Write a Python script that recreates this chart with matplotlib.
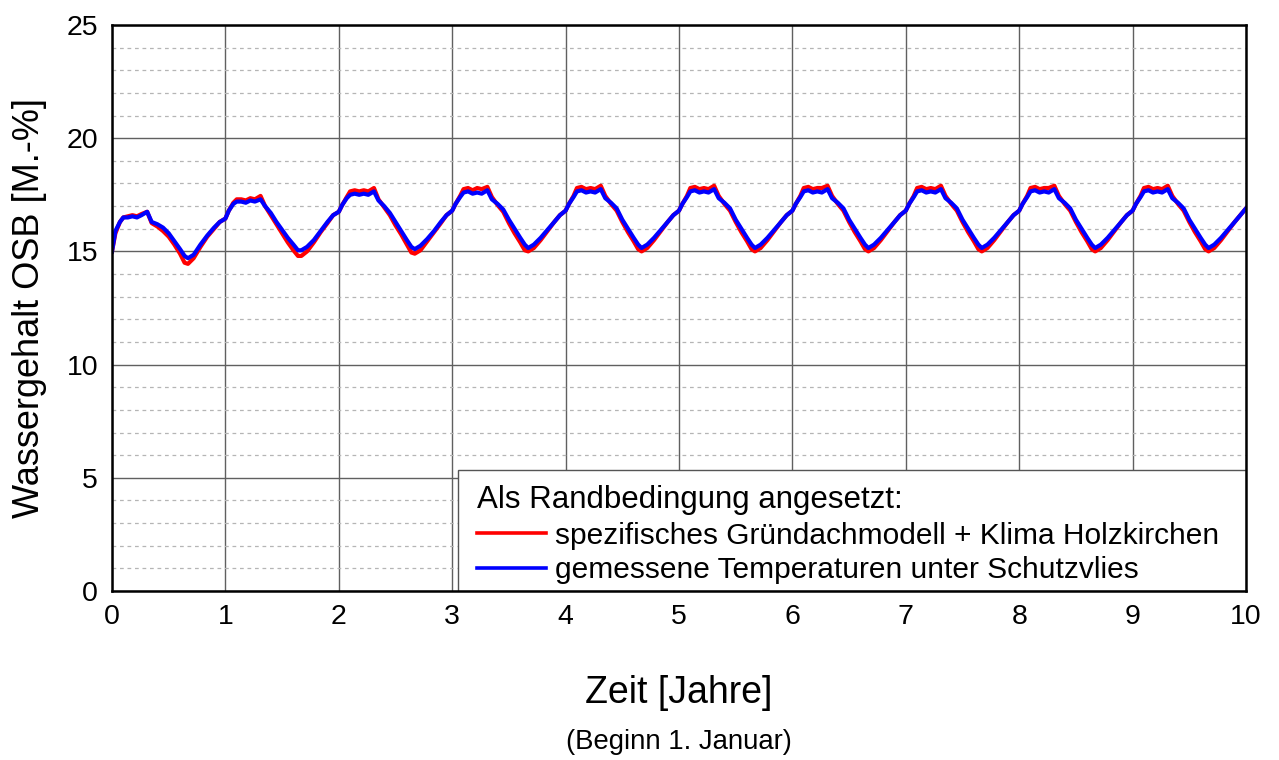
import matplotlib
matplotlib.use('Agg')
import matplotlib.pyplot as plt
from matplotlib.patches import Rectangle
from matplotlib.ticker import MultipleLocator

plt.rcParams['font.family'] = ['Liberation Sans', 'DejaVu Sans']

# Zeitpunkte innerhalb eines Jahres (Anteil des Jahres)
phase = [0.00, 0.03, 0.07, 0.10, 0.14, 0.18, 0.22, 0.26, 0.31, 0.35, 0.40,
         0.45, 0.50, 0.55, 0.60, 0.64, 0.67, 0.72, 0.78, 0.84, 0.90, 0.95]

# Wassergehalt OSB [M.-%], je Jahr eine Liste (Werte zu den Zeitpunkten in phase)
rot_jahre = [
    [15.0, 15.8, 16.3, 16.5, 16.55, 16.6, 16.55, 16.65, 16.75, 16.25, 16.1,
     15.9, 15.65, 15.3, 14.9, 14.5, 14.45, 14.7, 15.2, 15.65, 16.0, 16.3],
    [16.45, 16.8, 17.15, 17.3, 17.3, 17.25, 17.35, 17.3, 17.45, 17.0, 16.6,
     16.2, 15.8, 15.4, 15.05, 14.8, 14.8, 15.0, 15.4, 15.85, 16.25, 16.6],
    [16.75, 17.05, 17.4, 17.65, 17.7, 17.65, 17.7, 17.65, 17.8, 17.3, 16.95,
     16.6, 16.15, 15.75, 15.3, 14.95, 14.9, 15.05, 15.45, 15.85, 16.25, 16.6],
    [16.8, 17.1, 17.45, 17.75, 17.8, 17.7, 17.8, 17.75, 17.85, 17.4, 17.05,
     16.75, 16.25, 15.8, 15.4, 15.05, 15.0, 15.15, 15.5, 15.9, 16.3, 16.6],
    [16.8, 17.1, 17.45, 17.8, 17.85, 17.75, 17.8, 17.75, 17.9, 17.45, 17.1,
     16.8, 16.3, 15.85, 15.45, 15.1, 15.0, 15.15, 15.5, 15.9, 16.3, 16.6],
    [16.8, 17.1, 17.45, 17.8, 17.85, 17.75, 17.8, 17.75, 17.9, 17.45, 17.1,
     16.8, 16.3, 15.85, 15.45, 15.1, 15.0, 15.15, 15.5, 15.9, 16.3, 16.6],
    [16.8, 17.1, 17.45, 17.8, 17.85, 17.75, 17.8, 17.8, 17.9, 17.45, 17.1,
     16.8, 16.3, 15.85, 15.45, 15.1, 15.0, 15.15, 15.5, 15.9, 16.3, 16.6],
    [16.8, 17.1, 17.45, 17.8, 17.85, 17.75, 17.8, 17.75, 17.9, 17.45, 17.1,
     16.8, 16.3, 15.85, 15.45, 15.1, 15.0, 15.15, 15.5, 15.9, 16.3, 16.6],
    [16.8, 17.1, 17.45, 17.8, 17.85, 17.75, 17.8, 17.8, 17.9, 17.45, 17.1,
     16.8, 16.3, 15.85, 15.45, 15.1, 15.0, 15.15, 15.5, 15.9, 16.3, 16.6],
    [16.8, 17.1, 17.45, 17.8, 17.85, 17.75, 17.8, 17.75, 17.9, 17.45, 17.1,
     16.8, 16.3, 15.85, 15.45, 15.1, 15.0, 15.15, 15.5, 15.9, 16.3, 16.6],
]
blau_jahre = [
    [15.0, 15.9, 16.3, 16.5, 16.5, 16.55, 16.5, 16.6, 16.75, 16.3, 16.2,
     16.05, 15.8, 15.45, 15.1, 14.8, 14.7, 14.85, 15.3, 15.7, 16.05, 16.3],
    [16.45, 16.8, 17.1, 17.2, 17.2, 17.15, 17.25, 17.2, 17.3, 17.0, 16.7,
     16.3, 15.95, 15.6, 15.3, 15.05, 15.05, 15.2, 15.5, 15.9, 16.3, 16.6],
    [16.75, 17.05, 17.35, 17.5, 17.55, 17.5, 17.55, 17.5, 17.65, 17.25, 17.0,
     16.7, 16.3, 15.9, 15.5, 15.2, 15.1, 15.25, 15.55, 15.9, 16.3, 16.6],
    [16.8, 17.1, 17.4, 17.6, 17.65, 17.55, 17.6, 17.55, 17.7, 17.3, 17.1,
     16.85, 16.4, 16.0, 15.6, 15.3, 15.15, 15.3, 15.6, 15.95, 16.3, 16.6],
    [16.8, 17.1, 17.4, 17.65, 17.7, 17.6, 17.65, 17.6, 17.75, 17.35, 17.15,
     16.9, 16.4, 16.0, 15.6, 15.3, 15.15, 15.3, 15.6, 15.95, 16.3, 16.6],
    [16.8, 17.1, 17.4, 17.65, 17.7, 17.6, 17.65, 17.6, 17.75, 17.35, 17.15,
     16.9, 16.4, 16.0, 15.6, 15.3, 15.15, 15.3, 15.6, 15.95, 16.3, 16.6],
    [16.8, 17.1, 17.4, 17.65, 17.7, 17.6, 17.65, 17.6, 17.75, 17.35, 17.15,
     16.9, 16.4, 16.0, 15.6, 15.3, 15.15, 15.3, 15.6, 15.95, 16.3, 16.6],
    [16.8, 17.1, 17.4, 17.65, 17.7, 17.6, 17.65, 17.6, 17.75, 17.35, 17.15,
     16.9, 16.4, 16.0, 15.6, 15.3, 15.15, 15.3, 15.6, 15.95, 16.3, 16.6],
    [16.8, 17.1, 17.4, 17.65, 17.7, 17.6, 17.65, 17.6, 17.75, 17.35, 17.15,
     16.9, 16.4, 16.0, 15.6, 15.3, 15.15, 15.3, 15.6, 15.95, 16.3, 16.6],
    [16.8, 17.1, 17.4, 17.65, 17.7, 17.6, 17.65, 17.6, 17.75, 17.35, 17.15,
     16.9, 16.4, 16.0, 15.6, 15.3, 15.15, 15.3, 15.6, 15.95, 16.3, 16.6],
]
ende_zeit = 10.0
ende_rot = 16.9
ende_blau = 16.9

labels = ['spezifisches Gründachmodell + Klima Holzkirchen',
          'gemessene Temperaturen unter Schutzvlies']

# Zeitreihen zusammensetzen
zeit = [jahr + p for jahr in range(len(rot_jahre)) for p in phase] + [ende_zeit]
rot = [w for jahr in rot_jahre for w in jahr] + [ende_rot]
blau = [w for jahr in blau_jahre for w in jahr] + [ende_blau]

fig = plt.figure(figsize=(12.79, 7.6), dpi=100)
ax = fig.add_axes([112 / 1279, 169 / 760, 1134 / 1279, 566 / 760])

ax.plot(zeit, rot, color='#ff0000', lw=3.0, label=labels[0], zorder=3)
ax.plot(zeit, blau, color='#0000ff', lw=3.0, label=labels[1], zorder=4)

ax.set_xlim(0, 10)
ax.set_ylim(0, 25)
ax.xaxis.set_major_locator(MultipleLocator(1))
ax.yaxis.set_major_locator(MultipleLocator(5))
ax.yaxis.set_minor_locator(MultipleLocator(1))

ax.grid(which='major', color='#606060', lw=1.0, zorder=1)
ax.grid(which='minor', axis='y', color='#b5b5b5', lw=0.9,
        linestyle=(0, (3, 3)), zorder=1)
ax.set_axisbelow(True)

ax.tick_params(which='both', length=0, labelsize=20.5)
ax.tick_params(axis='x', pad=9)
ax.tick_params(axis='y', pad=10)

for s in ax.spines.values():
    s.set_linewidth(1.8)
    s.set_color('black')
    s.set_zorder(6)

# weisser Legendenkasten unten rechts
box = Rectangle((0.305, 0.0), 0.695, 0.214, transform=ax.transAxes,
                facecolor='white', edgecolor='#555555', lw=1.0, zorder=4.5)
ax.add_patch(box)

leg = ax.legend(title='Als Randbedingung angesetzt:', loc='upper left',
                bbox_to_anchor=(0.322, 0.187), borderaxespad=0,
                fontsize=21.5, title_fontsize=22.5, alignment='left',
                frameon=False, borderpad=0, handlelength=2.3,
                handletextpad=0.3, labelspacing=0.22)
for line in leg.get_lines():
    line.set_linewidth(2.6)

fig.text(679 / 1279, 1 - 693 / 760, 'Zeit [Jahre]', ha='center', va='center',
         fontsize=27)
fig.text(679 / 1279, 1 - 742 / 760, '(Beginn 1. Januar)', ha='center',
         va='center', fontsize=19.8)
fig.text(30 / 1279, 1 - 308 / 760, 'Wassergehalt OSB [M.-%]', ha='center',
         va='center', rotation=90, fontsize=26)

fig.savefig('out.png', dpi=100)
